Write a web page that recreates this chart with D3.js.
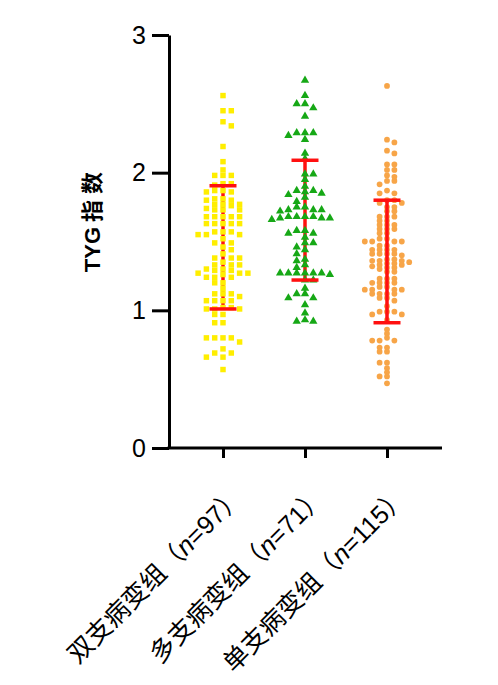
<!DOCTYPE html>
<html><head><meta charset="utf-8">
<script src="https://cdn.jsdelivr.net/npm/d3@7"></script>
<style>
body{margin:0;background:#fff;}
svg{display:block;}
</style></head>
<body>
<svg id="chart" width="498" height="685"></svg>
<script>
const categories = ["双支病变组", "多支病变组", "单支病变组"];
const counts = ["97", "71", "115"];
const yTicks = [0, 1, 2, 3];
const yTitleLatin = "TYG";
const yTitleCJK = "指数";

const group1 = [2.56,2.45,2.45,2.37,2.34,2.19,2.08,2.02,1.98,1.98,1.98,1.92,1.92,1.91,
1.87,1.87,1.86,1.86,1.81,1.81,1.80,1.80,1.77,1.77,1.77,1.76,1.73,1.73,1.73,1.74,
1.68,1.68,1.68,1.68,1.68,1.63,1.63,1.63,1.63,1.63,1.57,1.57,1.57,
1.55,1.55,1.55,1.52,1.49,1.49,1.46,1.44,1.41,1.38,1.38,1.38,1.35,1.33,1.33,1.33,
1.30,1.30,1.29,1.29,1.27,1.27,1.27,1.26,1.24,1.24,1.24,1.20,1.20,1.16,1.12,1.12,1.12,1.10,
1.07,1.07,1.07,1.07,1.02,1.02,1.01,1.01,1.01,0.97,0.97,0.91,0.91,
0.80,0.80,0.80,0.80,0.77,0.72,0.69,0.69,0.66,0.66,0.57];

const group2 = [2.67,2.56,2.50,2.50,2.47,2.41,2.29,2.29,2.29,2.27,2.24,2.14,2.10,
1.99,1.99,1.95,1.90,1.87,1.87,1.86,1.85,1.84,1.82,1.79,1.75,1.75,1.73,1.73,1.73,1.72,
1.68,1.68,1.68,1.68,1.67,1.67,1.67,1.66,1.58,1.58,1.56,1.56,1.53,1.49,1.49,1.46,1.44,1.41,
1.37,1.36,1.33,1.31,1.27,1.27,1.27,1.27,1.27,1.27,1.26,1.22,1.22,1.16,1.12,1.12,1.09,1.09,
1.04,0.98,0.92,0.92,0.93];

const group3 = [2.63,2.24,2.22,2.16,2.14,2.06,2.06,2.02,2.02,1.98,1.97,1.94,1.94,1.915,1.87,
1.85,1.85,1.80,1.80,1.78,1.78,1.75,1.75,1.72,1.72,1.68,1.68,1.68,1.65,1.65,
1.62,1.62,1.62,1.59,1.59,1.59,1.56,1.56,1.52,1.52,1.50,1.50,1.50,1.50,1.47,1.47,
1.44,1.44,1.44,1.44,1.41,1.41,1.41,1.41,1.40,1.37,1.37,1.36,1.36,1.36,1.35,
1.34,1.34,1.33,1.33,1.32,1.31,1.31,1.30,1.28,1.28,1.23,1.23,1.23,1.20,1.20,1.20,1.20,
1.17,1.17,1.15,1.15,1.15,1.15,1.12,1.12,1.12,1.12,1.09,1.09,1.07,1.03,
0.99,0.99,0.99,0.97,0.97,0.93,0.86,0.83,0.80,0.78,0.78,0.78,0.73,0.73,0.70,0.70,
0.62,0.62,0.58,0.55,0.52,0.52,0.47];

const barLow = [1.01, 1.22, 0.91];
const barHigh = [1.905, 2.09, 1.80];

const groups = [group1, group2, group3];
const colors = ["#ffee00", "#16a816", "#f7a548"];
const shapes = [d3.symbolSquare, d3.symbolTriangle, d3.symbolCircle];
const shapeSizes = [30, 30, 26];
const colWidths = [8.3, 8.3, 7.4];
const minGaps = [4.4, 4.4, 4.0];
const barOnTop = [false, false, true];

const svg = d3.select("#chart");
const y = d3.scaleLinear().domain([0, 3]).range([448, 35]);
const x = d3.scalePoint().domain(categories).range([223, 387]);
const axisLeftX = 169, axisRightX = 442;

function swarm(values, cx, colW, minGap) {
  const pts = values.map(v => ({v, py: y(v)})).sort((a, b) => b.v - a.v);
  const placed = [];
  pts.forEach((d, i) => {
    for (let k = 0; ; k++) {
      const cands = k === 0 ? [0] : (i % 2 ? [-k, k] : [k, -k]);
      let found = null;
      for (const c of cands) {
        if (!placed.some(p => p.col === c && Math.abs(p.py - d.py) < minGap)) { found = c; break; }
      }
      if (found !== null) { d.col = found; placed.push(d); break; }
    }
    d.px = cx + d.col * colW;
  });
  return pts;
}

function vline(g, c, i) {
  g.append("line").attr("x1", x(c)).attr("x2", x(c))
    .attr("y1", y(barLow[i])).attr("y2", y(barHigh[i]))
    .attr("stroke", "#ff1010").attr("stroke-width", 3.5);
}

// error bar vertical lines behind points
const gBars = svg.append("g");
categories.forEach((c, i) => { if (!barOnTop[i]) vline(gBars, c, i); });

// points
categories.forEach((c, i) => {
  const pts = swarm(groups[i], x(c), colWidths[i], minGaps[i]);
  const sym = d3.symbol().type(shapes[i]).size(shapeSizes[i]);
  svg.append("g").selectAll("path").data(pts).join("path")
    .attr("d", sym)
    .attr("transform", d => `translate(${d.px},${d.py})`)
    .attr("fill", colors[i]);
});

// vertical lines on top + caps
const gCaps = svg.append("g");
categories.forEach((c, i) => {
  if (barOnTop[i]) vline(gCaps, c, i);
  [barLow[i], barHigh[i]].forEach(v => {
    gCaps.append("line").attr("x1", x(c) - 13.5).attr("x2", x(c) + 13.5)
      .attr("y1", y(v)).attr("y2", y(v))
      .attr("stroke", "#ff1010").attr("stroke-width", 3.5);
  });
});

// Y axis
const yAxis = svg.append("g").attr("transform", `translate(${axisLeftX},0)`)
  .call(d3.axisLeft(y).tickValues(yTicks).tickFormat(d3.format("d")).tickSize(17).tickSizeOuter(0).tickPadding(6));
yAxis.select(".domain").attr("stroke", "#000").attr("stroke-width", 3);
yAxis.selectAll(".tick line").attr("stroke", "#000").attr("stroke-width", 3);
yAxis.selectAll(".tick text").attr("font-family", "'Liberation Sans', Arial, sans-serif")
  .attr("font-size", 25).attr("fill", "#000");

// X axis
const xAxis = svg.append("g").attr("transform", `translate(0,${y(0)})`)
  .call(d3.axisBottom(x).tickSize(10).tickFormat("").tickSizeOuter(0));
xAxis.select(".domain").remove();
xAxis.selectAll(".tick line").attr("stroke", "#000").attr("stroke-width", 3);
svg.append("line").attr("x1", axisLeftX - 1.5).attr("x2", axisRightX)
  .attr("y1", y(0)).attr("y2", y(0)).attr("stroke", "#000").attr("stroke-width", 3);

// X labels
categories.forEach((c, i) => {
  const t = svg.append("text")
    .attr("transform", `translate(${x(c) + 22},${498}) rotate(-45)`)
    .attr("text-anchor", "end")
    .attr("font-family", "'Noto Sans CJK SC', sans-serif")
    .attr("font-size", 25.5).attr("fill", "#000");
  t.append("tspan").text(c + "（");
  t.append("tspan").attr("font-style", "italic").attr("font-family", "'Liberation Sans', Arial, sans-serif").text("n");
  t.append("tspan").attr("font-family", "'Liberation Sans', Arial, sans-serif").text("=" + counts[i]);
  t.append("tspan").text("）");
});

// Y title
const title = svg.append("text")
  .attr("transform", `translate(100,219) rotate(-90)`)
  .attr("text-anchor", "middle")
  .attr("font-family", "'Liberation Sans', 'Noto Sans CJK SC', sans-serif")
  .attr("font-weight", "bold").attr("font-size", 22).attr("fill", "#000");
title.append("tspan").text(yTitleLatin);
title.append("tspan").attr("dx", 5).attr("letter-spacing", 6)
  .attr("font-family", "'Noto Sans CJK SC', sans-serif").text(yTitleCJK);
</script>
</body></html>
